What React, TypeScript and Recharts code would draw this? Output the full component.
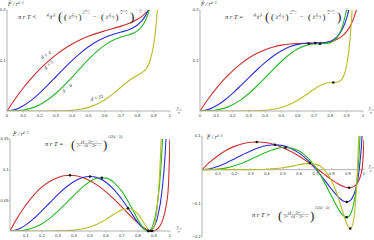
import React from 'react';
import { ComposedChart, Line, XAxis, YAxis, ReferenceLine, ReferenceDot } from 'recharts';

const RATIO = [0, 0.05, 0.1, 0.15, 0.2, 0.25, 0.3, 0.35, 0.4, 0.45, 0.5, 0.55, 0.6, 0.65, 0.7, 0.75, 0.8, 0.825, 0.85, 0.875, 0.9, 0.915, 0.925, 0.95, 0.975, 0.99, 1];

// panel 1 : T below critical
const P1_D4 = [0, 0.02387, 0.04552, 0.065, 0.08237, 0.09773, 0.11114, 0.12272, 0.1326, 0.14093, 0.14789, 0.15373, 0.15874, 0.16334, 0.16808, 0.17375, 0.18159, 0.18691, 0.19365, 0.20238, 0.21397, 0.22286, 0.22988, 0.25294, 0.29052, 0.33154, 0.42];
const P1_D5 = [0, 0.00276, 0.0103, 0.02157, 0.03554, 0.05126, 0.06781, 0.08438, 0.1002, 0.11463, 0.12718, 0.1375, 0.14552, 0.15152, 0.1563, 0.16155, 0.1704, 0.17789, 0.18891, 0.20529, 0.22985, 0.25039, 0.26744, 0.32758, 0.43497, 0.56064, 0.84823];
const P1_D6 = [0, 0.00025, 0.00183, 0.00571, 0.01248, 0.02232, 0.0351, 0.05033, 0.06725, 0.08488, 0.10207, 0.11764, 0.13054, 0.14008, 0.14636, 0.151, 0.15856, 0.16636, 0.17971, 0.20218, 0.23969, 0.2734, 0.30255, 0.41137, 0.62007, 0.87762, 1.4933];
const P1_D11 = [0, 0, 0, 0, 0, 0, 0.0002, 0.0006, 0.00157, 0.00356, 0.00722, 0.01325, 0.02217, 0.03394, 0.0475, 0.0605, 0.07069, 0.07536, 0.08233, 0.09706, 0.13172, 0.17211, 0.21297, 0.40379, 0.8881, 1.62, 3.69];

// panel 2 : critical T
const P2_D4 = [0, 0.0237, 0.04482, 0.06343, 0.07959, 0.09338, 0.10489, 0.11421, 0.12148, 0.12686, 0.13052, 0.13271, 0.13372, 0.13398, 0.13402, 0.13466, 0.13711, 0.1396, 0.14344, 0.14917, 0.15768, 0.16467, 0.17041, 0.19022, 0.22446, 0.26343, 0.3505];
const P2_D5 = [0, 0.00275, 0.01024, 0.02136, 0.03504, 0.05027, 0.06612, 0.08168, 0.09618, 0.10891, 0.11932, 0.12704, 0.13195, 0.13426, 0.13475, 0.13504, 0.13823, 0.1426, 0.15033, 0.1632, 0.18404, 0.20225, 0.21771, 0.27371, 0.37673, 0.49967, 0.7854];
const P2_D6 = [0, 0.00025, 0.00182, 0.00568, 0.01239, 0.0221, 0.03464, 0.04948, 0.06581, 0.08256, 0.09854, 0.11247, 0.12321, 0.12998, 0.13278, 0.1331, 0.13539, 0.14017, 0.15019, 0.16904, 0.20259, 0.23376, 0.26115, 0.36532, 0.56897, 0.8233, 1.43675];
const P2_D11 = [0, 0, 0, 0, 0, 0, 0.0002, 0.00059, 0.00154, 0.00348, 0.00702, 0.01276, 0.0211, 0.03175, 0.04322, 0.05255, 0.05648, 0.05661, 0.05779, 0.06521, 0.09068, 0.12449, 0.16045, 0.33702, 0.80375, 1.525, 3.583];

// panel 3 : T at the transition
const P3_D4 = [0, 0.02321, 0.04288, 0.05906, 0.07182, 0.08124, 0.0874, 0.09042, 0.0904, 0.08752, 0.08196, 0.07395, 0.06379, 0.05191, 0.03884, 0.02539, 0.01279, 0.00739, 0.00309, 0.00045, 0.00033, 0.00204, 0.00421, 0.01491, 0.0398, 0.07304, 0.15625];
const P3_D5 = [0, 0.00272, 0.01, 0.02054, 0.0331, 0.04648, 0.05956, 0.07126, 0.08063, 0.08676, 0.08895, 0.08661, 0.07946, 0.06753, 0.0514, 0.03252, 0.01381, 0.00615, 0.00109, 0.0004, 0.00689, 0.0161, 0.02538, 0.06537, 0.1515, 0.26389, 0.5424];
const P3_D6 = [0, 0.00024, 0.00179, 0.00554, 0.01193, 0.02099, 0.03233, 0.0452, 0.05849, 0.07085, 0.08068, 0.08633, 0.08619, 0.07899, 0.06419, 0.04271, 0.01838, 0.00783, 0.00106, 0.00157, 0.01516, 0.03352, 0.05201, 0.13263, 0.31081, 0.54888, 1.15108];
const P3_D11 = [0, 0, 0, 0, 0, 0, 0.0002, 0.00057, 0.00148, 0.00332, 0.00659, 0.01176, 0.01892, 0.02727, 0.03449, 0.0363, 0.02743, 0.01829, 0.00766, 0.00013, 0.00683, 0.0272, 0.05315, 0.20062, 0.63143, 1.327, 3.367];

// panel 4 : T above the transition
const P4_D4 = [0, 0.02305, 0.04222, 0.05757, 0.06917, 0.0771, 0.08144, 0.0823, 0.0798, 0.07411, 0.06539, 0.05391, 0.03994, 0.02392, 0.00638, -0.01188, -0.02961, -0.0377, -0.04477, -0.05027, -0.05333, -0.05342, -0.05248, -0.04488, -0.02318, 0.00811, 0.09];
const P4_D5 = [0, 0.0027, 0.00986, 0.02006, 0.03197, 0.04428, 0.05576, 0.06523, 0.07162, 0.07394, 0.07136, 0.06321, 0.04908, 0.0289, 0.00315, -0.02682, -0.0582, -0.07283, -0.08529, -0.09383, -0.09565, -0.09166, -0.08595, -0.05524, 0.02112, 0.1274, 0.4017];
const P4_D6 = [0, 0.00024, 0.00177, 0.00542, 0.01155, 0.02006, 0.0304, 0.04162, 0.0524, 0.06109, 0.06581, 0.06455, 0.05535, 0.03652, 0.00707, -0.03257, -0.07907, -0.10239, -0.12314, -0.13789, -0.14094, -0.13325, -0.12218, -0.06116, 0.0958, 0.32034, 0.91316];
const P4_D11 = [0, 0, 0, 0, 0, 0, 0.0002, 0.00054, 0.00136, 0.00298, 0.00572, 0.00969, 0.01439, 0.01796, 0.01636, 0.00257, -0.03288, -0.06126, -0.0964, -0.13495, -0.16724, -0.1748, -0.16959, -0.08255, 0.27368, 0.9169, 2.918];

// marked extrema
const P2_DOT_X = [0.6667, 0.7071, 0.7368, 0.8178];
const P2_DOT_Y = [0.1339, 0.1347, 0.1332, 0.0566];
const P3_DOT_X = [0.375, 0.5, 0.574, 0.737, 0.8889, 0.866, 0.8618, 0.8801];
const P3_DOT_Y = [0.0907, 0.0888, 0.087, 0.0369, 0, 0, 0, 0];
const P4_DOT_X = [0.338, 0.45, 0.516, 0.666, 0.9085, 0.893, 0.8927, 0.915];
const P4_DOT_Y = [0.0824, 0.0739, 0.0662, 0.02, -0.0536, -0.0957, -0.1417, -0.1748];

const X_TICKS = [0, 0.1, 0.2, 0.3, 0.4, 0.5, 0.6, 0.7, 0.8, 0.9, 1];
const X_TICKS_INNER = [0.1, 0.2, 0.3, 0.4, 0.5, 0.6, 0.7, 0.8, 0.9, 1];
const Y_TICKS_TOP = [0.1, 0.2];
const Y_TICKS_P3 = [0.05, 0.1, 0.15];
const Y_TICKS_P4 = [-0.2, -0.1, 0.1];

const SERIES = ['d4', 'd5', 'd6', 'd11'];
const COLORS: Record<string, string> = { d4: '#c8302c', d5: '#2e2ed2', d6: '#2cb52c', d11: '#baba2a' };

const AXIS = '#a8a8a8';
const SANS = 'Liberation Sans, Arial, sans-serif';
const SERIF = 'Liberation Serif, DejaVu Serif, serif';
const TICK_STYLE = { fontSize: 4.2, fill: '#333', fontFamily: SANS };

function buildTable(a: number[], b: number[], c: number[], d: number[]) {
  return RATIO.map((x, i) => ({ x, d4: a[i], d5: b[i], d6: c[i], d11: d[i] }));
}

const fmt = (v: number) => (v === 0 ? '0' : v === 1 ? '1' : (v < 0 ? '\u2212' : '') + String(Math.abs(v)));

const ZeroTick = (props: any) => {
  const { x, y, payload, shift } = props;
  const y0 = y - shift;
  return (
    <g>
      <line x1={x} x2={x} y1={y0} y2={y0 - 1.8} stroke={AXIS} strokeWidth={0.6} />
      <text x={x} y={y0 + 5.6} textAnchor="middle" style={TICK_STYLE}>{fmt(payload.value)}</text>
    </g>
  );
};

type PanelProps = {
  left: number; top: number; width: number; height: number;
  margin: { top: number; right: number; bottom: number; left: number };
  yW: number; xH: number; yDomain: [number, number]; yTicks: number[]; xTicks: number[];
  data: any[]; dotX?: number[]; dotY?: number[]; zeroShift?: number;
};

function Panel(p: PanelProps) {
  const axisLine = { stroke: AXIS, strokeWidth: 0.9 };
  return (
    <div style={{ position: 'absolute', left: p.left, top: p.top }}>
      <ComposedChart width={p.width} height={p.height} data={p.data} margin={p.margin}>
        {p.zeroShift === undefined ? (
          <XAxis type="number" dataKey="x" domain={[0, 1]} ticks={p.xTicks} interval={0} allowDataOverflow
            tickFormatter={fmt} axisLine={axisLine} tickLine={{ stroke: AXIS, strokeWidth: 0.6 }} tickSize={1.6} tickMargin={1}
            height={p.xH} tick={TICK_STYLE} />
        ) : (
          <XAxis type="number" dataKey="x" domain={[0, 1]} ticks={p.xTicks} interval={0} allowDataOverflow
            axisLine={false} tickLine={false} tickSize={0} tickMargin={0} height={p.xH}
            tick={(tp: any) => <ZeroTick {...tp} shift={p.zeroShift} />} />
        )}
        <YAxis type="number" domain={p.yDomain} ticks={p.yTicks} interval={0} allowDataOverflow width={p.yW}
          tickFormatter={fmt} axisLine={axisLine} tickLine={{ stroke: AXIS, strokeWidth: 0.6 }} tickSize={1} tickMargin={0.4}
          tick={TICK_STYLE} />
        {p.zeroShift !== undefined && <ReferenceLine y={0} stroke={AXIS} strokeWidth={0.9} />}
        {SERIES.map((s) => (
          <Line key={s} type="monotone" dataKey={s} stroke={COLORS[s]} strokeWidth={1.1} dot={false}
            isAnimationActive={false} />
        ))}
        {(p.dotX || []).map((dx, i) => (
          <ReferenceDot key={i} x={dx} y={(p.dotY as number[])[i]} r={1.25} fill="#111" stroke="none" ifOverflow="visible" />
        ))}
      </ComposedChart>
    </div>
  );
}

const Frac = ({ cx, yb, num, den, s, w }: { cx: number; yb: number; num: string; den: string; s: number; w: number }) => (
  <g fontFamily={SERIF} fontStyle="italic" fontSize={s} fill="#222" textAnchor="middle">
    <text x={cx} y={yb - 0.6}>{num}</text>
    <line x1={cx - w / 2} x2={cx + w / 2} y1={yb} y2={yb} stroke="#222" strokeWidth={0.3} />
    <text x={cx} y={yb + s * 0.85}>{den}</text>
  </g>
);

const Txt = ({ x, y, s, t, italic = true, anchor = 'start' }: any) => (
  <text x={x} y={y} fontSize={s} fontFamily={SERIF} fontStyle={italic ? 'italic' : 'normal'} fill="#222" textAnchor={anchor}>{t}</text>
);

function CritFormula({ x0, y0, rel }: { x0: number; y0: number; rel: string }) {
  return (
    <g>
      <Txt x={x0} y={y0} s={6.4} t={`\u03c0 r T ${rel}`} />
      <Frac cx={x0 + 33} yb={y0 - 2.4} num={'d \u2212 3'} den="4" s={3.8} w={9} />
      <Txt x={x0 + 40} y={y0 + 2.8} s={13} t="(" italic={false} />
      <Txt x={x0 + 46} y={y0 + 1.2} s={9} t="(" italic={false} />
      <Frac cx={x0 + 55} yb={y0 - 2.4} num="2" den={'d \u2212 1'} s={3.8} w={9} />
      <Txt x={x0 + 60.5} y={y0 + 1.2} s={9} t=")" italic={false} />
      <Frac cx={x0 + 68} yb={y0 - 7.4} num="2" den={'d \u2212 3'} s={2.9} w={7} />
      <Txt x={x0 + 75} y={y0} s={6.4} t={'\u2212'} italic={false} />
      <Txt x={x0 + 83} y={y0 + 1.2} s={9} t="(" italic={false} />
      <Frac cx={x0 + 92} yb={y0 - 2.4} num="2" den={'d \u2212 1'} s={3.8} w={9} />
      <Txt x={x0 + 97.5} y={y0 + 1.2} s={9} t=")" italic={false} />
      <Frac cx={x0 + 106} yb={y0 - 7.4} num={'d \u2212 1'} den={'d \u2212 3'} s={2.9} w={8} />
      <Txt x={x0 + 112} y={y0 + 2.8} s={13} t=")" italic={false} />
      <Txt x={x0 + 117.5} y={y0 - 7.2} s={3.4} t={'\u2212'} italic={false} />
      <Frac cx={x0 + 122.5} yb={y0 - 8} num="1" den="2" s={2.9} w={2.8} />
    </g>
  );
}

function HPFormula({ x0, y0, rel }: { x0: number; y0: number; rel: string }) {
  return (
    <g>
      <Txt x={x0} y={y0} s={6.4} t={`\u03c0 r T ${rel}`} />
      <Txt x={x0 + 26} y={y0 + 2.8} s={13} t="(" italic={false} />
      <g fontFamily={SERIF} fontStyle="italic" fill="#222" textAnchor="middle">
        <text x={x0 + 44} y={y0 - 3} fontSize={3.6}>(d − 1)<tspan fontSize={2.6} dy={-1.4}>d − 1</tspan></text>
        <line x1={x0 + 31} x2={x0 + 57} y1={y0 - 2.4} y2={y0 - 2.4} stroke="#222" strokeWidth={0.3} />
        <text x={x0 + 44} y={y0 + 1.4} fontSize={3.6}>2<tspan fontSize={2.6} dy={-1.3}>d − 3</tspan><tspan dy={1.3}>(d − 2)</tspan><tspan fontSize={2.6} dy={-1.3}>d − 2</tspan></text>
      </g>
      <Txt x={x0 + 58} y={y0 + 2.8} s={13} t=")" italic={false} />
      <Txt x={x0 + 63} y={y0 - 8.4} s={3} t={'1/(2(d \u2212 3))'} />
    </g>
  );
}

const YLabel = ({ x, y }: { x: number; y: number }) => (
  <g>
    <text x={x} y={y} fontSize={5.5} fontFamily={SERIF} fontStyle="italic" fill="#222">
      F / r<tspan dy={-2} fontSize={3.4}>{'d\u22123'}</tspan>
    </text>
    <line x1={x + 0.6} x2={x + 3.4} y1={y - 4.6} y2={y - 4.6} stroke="#222" strokeWidth={0.3} />
  </g>
);

const XLabel = ({ x, y }: { x: number; y: number }) => (
  <g fontFamily={SERIF} fontStyle="italic" fill="#222" fontSize={4.6} textAnchor="middle">
    <text x={x} y={y - 1.2}>r<tspan fontSize={3} dy={0.8}>+</tspan></text>
    <line x1={x - 3} x2={x + 3} y1={y} y2={y} stroke="#222" strokeWidth={0.3} />
    <text x={x} y={y + 4}>r</text>
  </g>
);

const CurveLabel = ({ x, y, rot, t }: { x: number; y: number; rot: number; t: string }) => (
  <text x={x} y={y} fontSize={5} fontFamily={SERIF} fontStyle="italic" fill="#222" transform={`rotate(${rot} ${x} ${y})`}>{t}</text>
);

export default function App() {
  return (
    <div style={{ position: 'absolute', left: 0, top: 0, width: 374, height: 240, background: '#fff', overflow: 'hidden' }}>
      <Panel left={0} top={0} width={187} height={125} margin={{ top: 10, right: 17, bottom: 0, left: 0 }}
        yW={7} xH={14} yDomain={[0, 0.2]} yTicks={Y_TICKS_TOP} xTicks={X_TICKS}
        data={buildTable(P1_D4, P1_D5, P1_D6, P1_D11)} />
      <Panel left={187} top={0} width={187} height={125} margin={{ top: 10, right: 11, bottom: 0, left: 0 }}
        yW={13} xH={14} yDomain={[0, 0.2]} yTicks={Y_TICKS_TOP} xTicks={X_TICKS}
        data={buildTable(P2_D4, P2_D5, P2_D6, P2_D11)} dotX={P2_DOT_X} dotY={P2_DOT_Y} />
      <Panel left={0} top={120} width={187} height={120} margin={{ top: 19, right: 17, bottom: 0, left: 0 }}
        yW={10} xH={9} yDomain={[0, 0.15]} yTicks={Y_TICKS_P3} xTicks={X_TICKS_INNER}
        data={buildTable(P3_D4, P3_D5, P3_D6, P3_D11)} dotX={P3_DOT_X} dotY={P3_DOT_Y} />
      <Panel left={187} top={120} width={187} height={120} margin={{ top: 16, right: 10, bottom: 0, left: 0 }}
        yW={15} xH={3} yDomain={[-0.2, 0.1]} yTicks={Y_TICKS_P4} xTicks={X_TICKS_INNER}
        data={buildTable(P4_D4, P4_D5, P4_D6, P4_D11)} dotX={P4_DOT_X} dotY={P4_DOT_Y} zeroShift={67.3} />
      <svg width={374} height={240} style={{ position: 'absolute', left: 0, top: 0, pointerEvents: 'none' }}>
        <YLabel x={8} y={5.5} />
        <YLabel x={201} y={5.5} />
        <YLabel x={13} y={136} />
        <YLabel x={207} y={139} />
        <XLabel x={179} y={110} />
        <XLabel x={371} y={110} />
        <XLabel x={179} y={229} />
        <XLabel x={371} y={168} />
        <CritFormula x0={18} y0={18.5} rel="<" />
        <CritFormula x0={225} y0={18.5} rel="=" />
        <HPFormula x0={45} y0={146} rel="=" />
        <HPFormula x0={252} y0={217} rel=">" />
        <CurveLabel x={42} y={59} rot={-30} t="d = 4" />
        <CurveLabel x={46} y={70} rot={-45} t="d = 5" />
        <CurveLabel x={64} y={93} rot={-40} t="d = 6" />
        <CurveLabel x={91} y={101} rot={-15} t="d = 11" />
      </svg>
    </div>
  );
}
